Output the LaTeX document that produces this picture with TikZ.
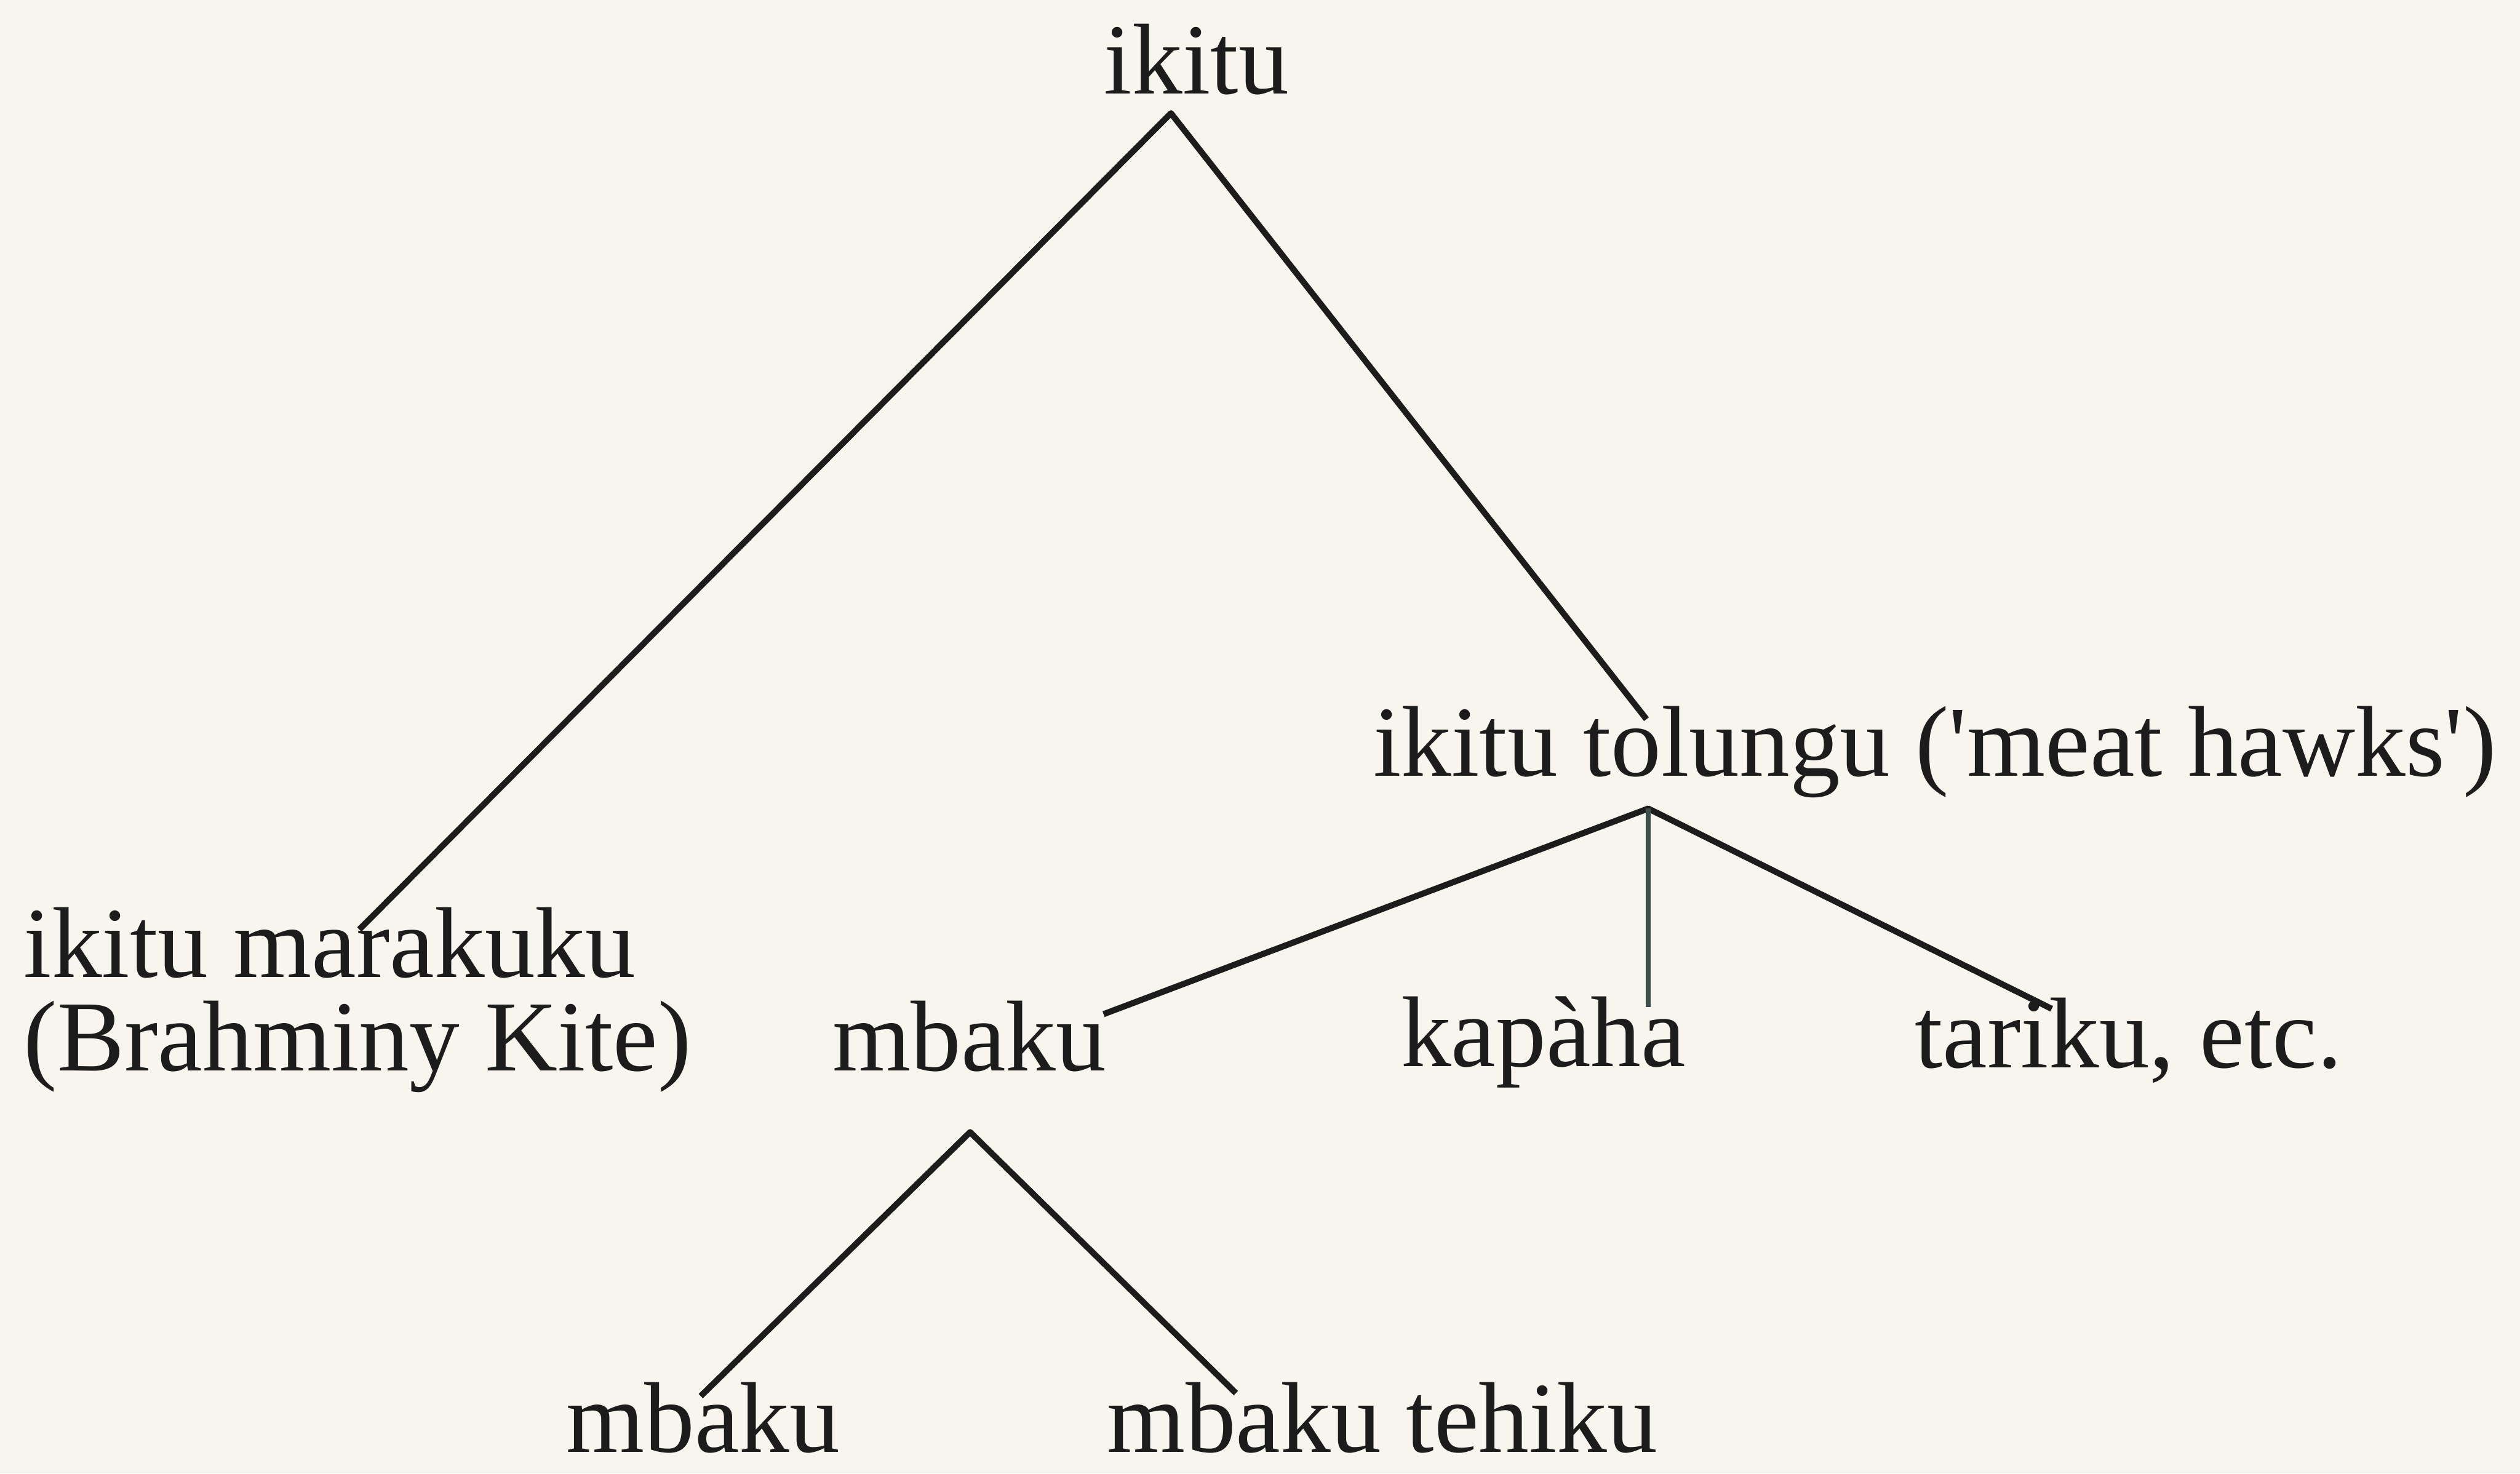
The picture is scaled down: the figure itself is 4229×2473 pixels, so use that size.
\documentclass[tikz,border=0pt]{standalone}
\usepackage{fontspec}
\setmainfont{Liberation Serif}
\definecolor{paper}{RGB}{247,245,238}
\definecolor{ink}{RGB}{28,28,28}
\definecolor{stemgray}{RGB}{62,78,74}
\begin{document}
\begin{tikzpicture}[x=0.01cm,y=-0.01cm,
  word/.style={inner sep=0pt, outer sep=0pt, anchor=base, text=ink,
    font=\fontsize{48}{56}\selectfont},
  flat/.style={text depth=0pt},
  branch/.style={draw=ink, line width=2.9pt, line join=round},
  stem/.style={draw=stemgray, line width=2.2pt}]
  % paper
  \fill[paper] (0,0) rectangle (4229,2473);
  \useasboundingbox (0,0) rectangle (4229,2473);

  % taxon labels
  \node[word] (root) at (2008,157) {ikitu};
  \node[word, flat, anchor=base west] (marakuku) at (40,1640) {ikitu marakuku};
  \node[word, anchor=base west] (brahminy) at (40,1797) {(Brahminy Kite)};
  \node[word] (tolungu) at (3247,1302) {ikitu tolungu (\textquotesingle meat hawks\textquotesingle)};
  \node[word] (mbakumid) at (1627,1797) {mbaku};
  \node[word] (kapaha) at (2590,1790) {kapàha};
  \node[word] (tariku) at (3572,1792) {tariku, etc.};
  \node[word, flat] (mbakulow) at (1180,2437) {mbaku};
  \node[word, flat] (tehiku) at (2320,2437) {mbaku tehiku};

  % branching points
  \coordinate (j0) at (1965,190);
  \coordinate (j1) at (2766,1357);
  \coordinate (j2) at (1628,1900);

  % branch tips
  \coordinate (t-marakuku) at (603,1560);
  \coordinate (t-tolungu) at (2763,1207);
  \coordinate (t-mbakumid) at (1852,1702);
  \coordinate (t-kapaha) at (2766,1690);
  \coordinate (t-tariku) at (3443,1693);
  \coordinate (t-mbakulow) at (1176,2343);
  \coordinate (t-tehiku) at (2074,2338);

  % branches
  \draw[branch] (t-marakuku) -- (j0) -- (t-tolungu);
  \draw[branch] (t-mbakumid) -- (j1) -- (t-tariku);
  \draw[stem] (j1) -- (t-kapaha);
  \draw[branch] (t-mbakulow) -- (j2) -- (t-tehiku);
\end{tikzpicture}
\end{document}
